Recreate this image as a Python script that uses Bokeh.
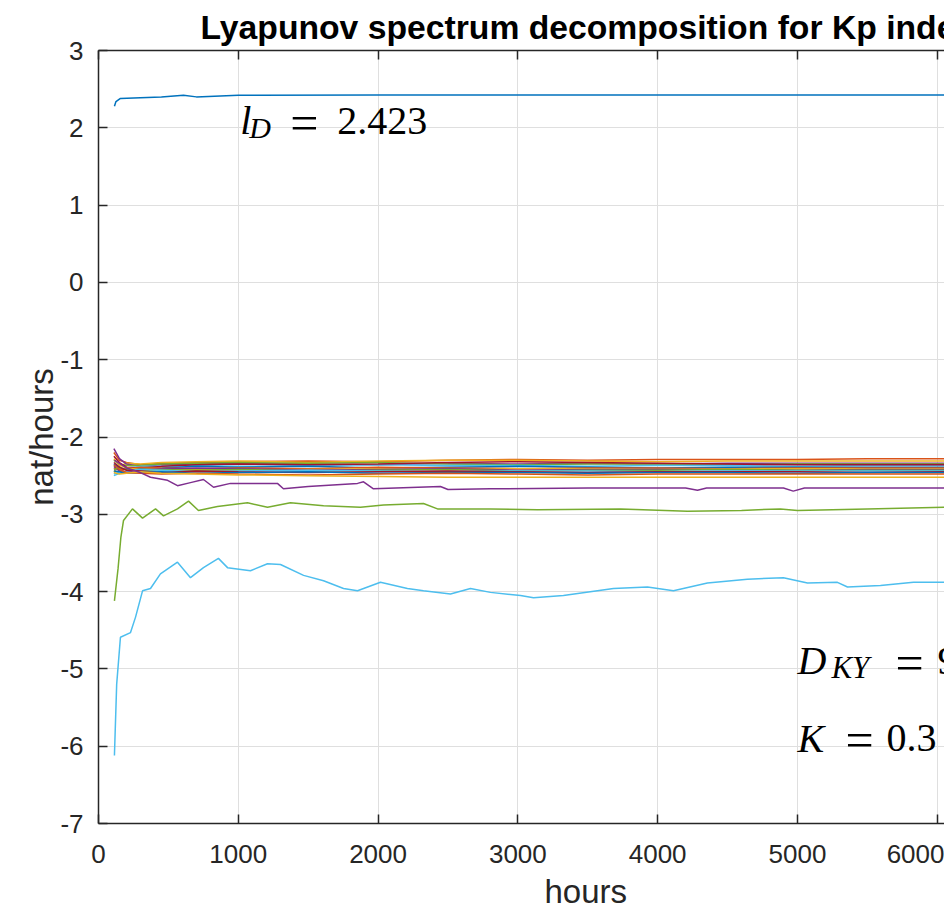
from bokeh.plotting import figure
from bokeh.models import Label, LinearAxis, SingleIntervalTicker, CustomJSTickFormatter, Title
from bokeh.embed import file_html
from bokeh.resources import INLINE

# ---------------- data ----------------
TITLE = "Lyapunov spectrum decomposition for Kp index"
X_LABEL = "hours"
Y_LABEL = "nat/hours"

x_ticks_step = 1000
y_ticks_step = 1

# exponent 1 (dominant, l_D)
l01_x = [114, 125, 157, 300, 450, 608, 700, 1000, 2000, 3000, 4000, 5000, 6052]
l01_y = [2.28, 2.34, 2.38, 2.39, 2.40, 2.42, 2.40, 2.42, 2.423, 2.423, 2.423, 2.423, 2.423]

# dense band of exponents 2..17
band_x = [110, 150, 200, 300, 450, 700, 1000, 1500, 2000, 2500, 3000, 3500, 4000, 4500, 5000, 5500, 6052]
l02_y = [-2.20, -2.30, -2.33, -2.36, -2.34, -2.33, -2.32, -2.31, -2.32, -2.30, -2.29, -2.30, -2.29, -2.29, -2.29, -2.28, -2.28]
l03_y = [-2.45, -2.38, -2.34, -2.35, -2.33, -2.32, -2.31, -2.33, -2.31, -2.30, -2.30, -2.31, -2.32, -2.31, -2.31, -2.31, -2.31]
l04_y = [-2.15, -2.28, -2.35, -2.38, -2.36, -2.35, -2.34, -2.35, -2.36, -2.34, -2.35, -2.34, -2.35, -2.34, -2.34, -2.34, -2.34]
l05_y = [-2.30, -2.36, -2.37, -2.37, -2.35, -2.34, -2.33, -2.34, -2.33, -2.35, -2.36, -2.35, -2.35, -2.36, -2.35, -2.35, -2.35]
l06_y = [-2.48, -2.45, -2.40, -2.38, -2.38, -2.37, -2.38, -2.37, -2.36, -2.37, -2.37, -2.38, -2.37, -2.37, -2.38, -2.37, -2.37]
l07_y = [-2.25, -2.33, -2.39, -2.40, -2.38, -2.36, -2.35, -2.36, -2.35, -2.33, -2.32, -2.33, -2.34, -2.35, -2.36, -2.36, -2.36]
l08_y = [-2.35, -2.40, -2.42, -2.41, -2.40, -2.38, -2.39, -2.38, -2.40, -2.39, -2.38, -2.39, -2.40, -2.39, -2.39, -2.39, -2.39]
l09_y = [-2.40, -2.43, -2.41, -2.39, -2.40, -2.41, -2.40, -2.41, -2.39, -2.40, -2.41, -2.40, -2.40, -2.41, -2.40, -2.40, -2.40]
l10_y = [-2.28, -2.36, -2.40, -2.42, -2.41, -2.42, -2.43, -2.42, -2.41, -2.42, -2.41, -2.41, -2.42, -2.41, -2.41, -2.41, -2.41]
l11_y = [-2.38, -2.44, -2.45, -2.43, -2.41, -2.40, -2.41, -2.43, -2.42, -2.41, -2.43, -2.42, -2.42, -2.42, -2.43, -2.42, -2.42]
l12_y = [-2.42, -2.40, -2.41, -2.44, -2.42, -2.43, -2.42, -2.44, -2.43, -2.42, -2.44, -2.43, -2.43, -2.42, -2.43, -2.43, -2.43]
l13_y = [-2.50, -2.47, -2.44, -2.42, -2.43, -2.45, -2.44, -2.43, -2.44, -2.45, -2.44, -2.44, -2.45, -2.44, -2.44, -2.44, -2.44]
l14_y = [-2.33, -2.39, -2.43, -2.44, -2.46, -2.44, -2.45, -2.46, -2.45, -2.44, -2.45, -2.46, -2.45, -2.45, -2.45, -2.46, -2.45]
l15_y = [-2.44, -2.45, -2.47, -2.46, -2.45, -2.47, -2.46, -2.45, -2.47, -2.46, -2.46, -2.47, -2.46, -2.46, -2.47, -2.46, -2.46]
l16_y = [-2.36, -2.42, -2.46, -2.47, -2.48, -2.47, -2.48, -2.49, -2.48, -2.47, -2.48, -2.49, -2.48, -2.48, -2.48, -2.48, -2.48]
l17_y = [-2.46, -2.48, -2.47, -2.45, -2.47, -2.48, -2.49, -2.50, -2.51, -2.52, -2.52, -2.52, -2.52, -2.52, -2.52, -2.52, -2.52]

# exponent 18 (purple)
l18_x = [114, 200, 300, 372, 494, 565, 658, 751, 823, 944, 1280, 1323, 1500, 1853, 1896, 1967,
         2446, 2500, 2804, 3500, 4200, 4285, 4350, 4900, 4970, 5050, 5600, 6052]
l18_y = [-2.30, -2.40, -2.46, -2.52, -2.56, -2.63, -2.59, -2.55, -2.65, -2.60, -2.60, -2.67, -2.64, -2.60, -2.58, -2.67,
         -2.64, -2.68, -2.67, -2.66, -2.66, -2.69, -2.66, -2.66, -2.70, -2.66, -2.66, -2.66]

# exponent 19 (green)
l19_x = [114, 140, 160, 179, 243, 315, 408, 465, 565, 644, 715, 851, 1066, 1209, 1373, 1610, 1874, 2039,
         2325, 2425, 2568, 2804, 3140, 3734, 4213, 4600, 4878, 5000, 5500, 6052]
l19_y = [-4.12, -3.70, -3.30, -3.08, -2.93, -3.05, -2.93, -3.02, -2.93, -2.83, -2.95, -2.90, -2.85, -2.91, -2.85, -2.89, -2.91, -2.88,
         -2.86, -2.93, -2.93, -2.93, -2.94, -2.93, -2.96, -2.95, -2.93, -2.95, -2.93, -2.91]

# exponent 20 (cyan)
l20_x = [114, 130, 157, 229, 265, 315, 372, 443, 565, 658, 751, 858, 923, 1087, 1209, 1302, 1467, 1610, 1753, 1853,
         2017, 2210, 2325, 2518, 2661, 2804, 3019, 3112, 3326, 3684, 3927, 4113, 4356, 4642, 4900, 5072, 5286, 5358,
         5594, 5830, 6052]
l20_y = [-6.12, -5.20, -4.59, -4.53, -4.33, -3.99, -3.96, -3.77, -3.62, -3.82, -3.69, -3.57, -3.69, -3.73, -3.64, -3.65, -3.79, -3.86, -3.96, -3.99,
         -3.88, -3.96, -3.99, -4.03, -3.96, -4.01, -4.05, -4.08, -4.05, -3.96, -3.94, -3.99, -3.89, -3.84, -3.82, -3.89, -3.88, -3.94,
         -3.92, -3.88, -3.88]

# annotations
ld_text = ["l", "D", "=", "2.423"]
dky_text = ["D", "KY", "=", "9"]
k_text = ["K", "=", "0.3"]

# MATLAB default colour order
colors = ["#0072BD", "#D95319", "#EDB120", "#7E2F8E", "#77AC30", "#4DBEEE", "#A2142F"]

# ---------------- figure ----------------
AX = "#262626"
FONT = "Liberation Sans"
SERIF = "Liberation Serif"

p = figure(width=944, height=915, x_range=(0, 6052), y_range=(-7, 3),
           output_backend="svg", toolbar_location=None,
           min_border_left=98, min_border_right=0, min_border_top=50, min_border_bottom=92)
p.outline_line_color = None
p.background_fill_color = "white"

p.title.text = TITLE
p.title.align = "left"
p.title.offset = 102
p.title.text_font = FONT
p.title.text_font_size = "33.7px"
p.title.text_font_style = "bold"
p.title.text_color = "#000000"
p.title.standoff = 2

xt = SingleIntervalTicker(interval=x_ticks_step)
yt = SingleIntervalTicker(interval=y_ticks_step)
fmt = CustomJSTickFormatter(code="return tick.toFixed(0)")

xa = p.xaxis[0]
xa.ticker = xt
ya = p.yaxis[0]
ya.ticker = yt

for ax in (xa, ya):
    ax.formatter = fmt
    ax.axis_line_color = AX
    ax.axis_line_width = 1.5
    ax.major_tick_line_color = AX
    ax.major_tick_line_width = 1.5
    ax.major_tick_in = 9
    ax.major_tick_out = 0
    ax.minor_tick_line_color = None
    ax.major_label_text_font = FONT
    ax.major_label_text_font_size = "26px"
    ax.major_label_text_color = AX

xa.major_label_standoff = 17
ya.major_label_standoff = 11
ya.axis_label = Y_LABEL
ya.axis_label_text_font = FONT
ya.axis_label_text_font_size = "33px"
ya.axis_label_text_font_style = "normal"
ya.axis_label_text_color = AX
ya.axis_label_standoff = -3

top = LinearAxis(ticker=SingleIntervalTicker(interval=x_ticks_step),
                 formatter=CustomJSTickFormatter(code="return ''"))
top.axis_line_color = AX
top.axis_line_width = 1.5
top.major_tick_line_color = AX
top.major_tick_line_width = 1.5
top.major_tick_in = 9
top.major_tick_out = 0
top.minor_tick_line_color = None
top.major_label_standoff = 0
top.major_label_text_font_size = "1px"
p.add_layout(top, "above")

# x-axis title, centred on the full (uncropped) axis of the original figure
p.add_layout(Title(text=X_LABEL, align="left", offset=446, standoff=11,
                   text_font=FONT, text_font_size="33px", text_font_style="normal",
                   text_color=AX), "below")

p.xgrid.ticker = xt
p.ygrid.ticker = yt
p.xgrid.grid_line_color = "#dfdfdf"
p.ygrid.grid_line_color = "#dfdfdf"
p.xgrid.grid_line_width = 1
p.ygrid.grid_line_width = 1

band = [l02_y, l03_y, l04_y, l05_y, l06_y, l07_y, l08_y, l09_y,
        l10_y, l11_y, l12_y, l13_y, l14_y, l15_y, l16_y, l17_y]
series = [(l01_x, l01_y)] + [(band_x, b) for b in band] + [(l18_x, l18_y), (l19_x, l19_y), (l20_x, l20_y)]
for i, (xs, ys) in enumerate(series):
    p.line(xs, ys, line_color=colors[i % 7], line_width=1.5)

# ---------------- annotations ----------------
def lab(x, y, text, dx, dy, size, italic):
    p.add_layout(Label(x=x, y=y, text=text, x_offset=dx, y_offset=dy,
                       text_font=SERIF, text_font_size=size,
                       text_font_style="italic" if italic else "normal",
                       text_color="#000000", text_baseline="alphabetic", text_align="left"))

lab(1000, 2, ld_text[0], 2, 7, "40px", True)
lab(1000, 2, ld_text[1], 11, 0, "30px", True)
lab(1000, 2, ld_text[2], 52, 5, "50px", False)
lab(1000, 2, ld_text[3], 99, 7, "40px", False)

lab(5000, -5, dky_text[0], 0, 8, "40px", True)
lab(5000, -5, dky_text[1], 34, 1, "31px", True)
lab(5000, -5, dky_text[2], 98, 6, "50px", False)
lab(5000, -5, dky_text[3], 140, 8, "40px", False)

lab(5000, -6, k_text[0], 0, 8, "40px", True)
lab(5000, -6, k_text[1], 48, 6, "50px", False)
lab(5000, -6, k_text[2], 89, 8, "40px", False)

open("out.html", "w").write(file_html(p, INLINE))
